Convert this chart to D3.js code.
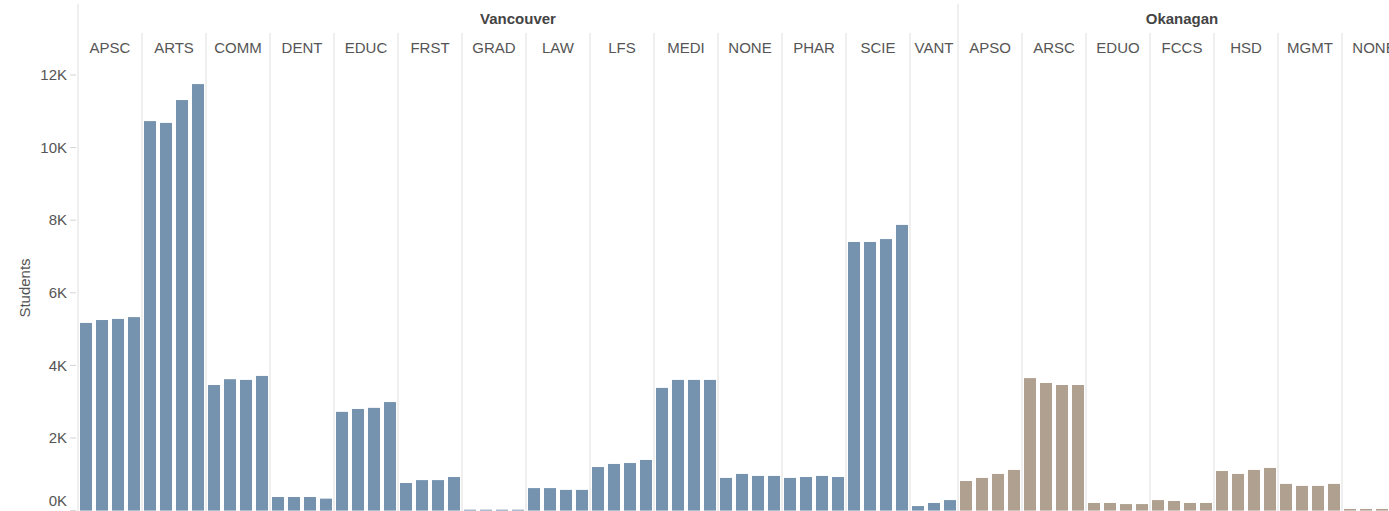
<!DOCTYPE html>
<html>
<head>
<meta charset="utf-8">
<script src="https://d3js.org/d3.v7.min.js"></script>
<style>
  body { margin: 0; background: #fff; }
  svg { display: block; font-family: 'Liberation Sans', Arial, Helvetica, sans-serif; }
  .tick-label, .fac-label { font-size: 15px; fill: #555; }
  .campus-label { font-size: 15px; font-weight: bold; fill: #444; }
  .axis-title { font-size: 15px; fill: #555; }
  .sep { stroke: #efefef; stroke-width: 2; }
</style>
</head>
<body>
<div id="vis"></div>
<script>
const years = ["2017", "2018", "2019", "2020"];
const campuses = ["Vancouver", "Okanagan"];
const campusColors = ["#7593af", "#b0a08f"];

const vanFaculties = ["APSC", "ARTS", "COMM", "DENT", "EDUC", "FRST", "GRAD", "LAW", "LFS", "MEDI", "NONE", "PHAR", "SCIE", "VANT"];
const vanStudents = [
  [5170, 5250, 5280, 5330],
  [10730, 10680, 11310, 11750],
  [3460, 3620, 3600, 3710],
  [375, 375, 375, 330],
  [2720, 2800, 2830, 2990],
  [760, 840, 840, 925],
  [25, 25, 25, 25],
  [620, 620, 570, 570],
  [1200, 1285, 1310, 1395],
  [3380, 3600, 3600, 3600],
  [900, 1010, 955, 955],
  [900, 925, 955, 925],
  [7400, 7400, 7480, 7870],
  [null, 125, 210, 290]
];

const okaFaculties = ["APSO", "ARSC", "EDUO", "FCCS", "HSD", "MGMT", "NONE"];
const okaStudents = [
  [815, 900, 1010, 1120],
  [3650, 3515, 3460, 3460],
  [210, 210, 180, 180],
  [290, 265, 210, 210],
  [1090, 1010, 1120, 1175],
  [735, 680, 680, 735],
  [45, 45, 45, 45]
];

const yTicks = [0, 2000, 4000, 6000, 8000, 10000, 12000];

const width = 1389, height = 511;
const left = 78, slotW = 16;

// flatten to bars, Tableau packs only existing years inside each pane
const groups = [
  { campus: campuses[0], color: campusColors[0], faculties: vanFaculties, values: vanStudents },
  { campus: campuses[1], color: campusColors[1], faculties: okaFaculties, values: okaStudents }
];

const bars = [];
const panes = [];
const campusSpans = [];
groups.forEach(g => {
  const first = bars.length;
  g.faculties.forEach((f, i) => {
    const start = bars.length;
    g.values[i].forEach((v, j) => {
      if (v === null) return;
      bars.push({ key: g.campus + "|" + f + "|" + years[j], campus: g.campus, color: g.color, value: v });
    });
    panes.push({ name: f, first: start, last: bars.length - 1 });
  });
  campusSpans.push({ name: g.campus, first: first, last: bars.length - 1 });
});

const x = d3.scaleBand()
  .domain(bars.map(d => d.key))
  .range([left, left + slotW * bars.length])
  .paddingInner(0.25)
  .paddingOuter(0.125);

const y = d3.scaleLinear().domain([0, 12000]).range([510.6, 75]);

const step = x.step();
const slotLeft = i => left + i * step;

const svg = d3.select("#vis").append("svg")
  .attr("width", width)
  .attr("height", height);

// pane separators
svg.append("g").selectAll("line.pane")
  .data(panes)
  .enter().append("line")
  .attr("class", "sep")
  .attr("x1", d => slotLeft(d.first))
  .attr("x2", d => slotLeft(d.first))
  .attr("y1", d => campusSpans.some(c => c.first === d.first) ? 4 : 33)
  .attr("y2", height);

// bars
svg.append("g").selectAll("rect")
  .data(bars)
  .enter().append("rect")
  .attr("x", d => x(d.key))
  .attr("width", x.bandwidth())
  .attr("y", d => y(d.value))
  .attr("height", d => y(0) - y(d.value))
  .style("fill", d => d.color);

// campus headers
svg.append("g").selectAll("text")
  .data(campusSpans)
  .enter().append("text")
  .attr("class", "campus-label")
  .attr("x", d => (slotLeft(d.first) + slotLeft(d.last + 1)) / 2)
  .attr("y", 23.5)
  .attr("text-anchor", "middle")
  .text(d => d.name);

// faculty headers
svg.append("g").selectAll("text")
  .data(panes)
  .enter().append("text")
  .attr("class", "fac-label")
  .attr("x", d => (slotLeft(d.first) + slotLeft(d.last + 1)) / 2)
  .attr("y", 53)
  .attr("text-anchor", "middle")
  .text(d => d.name);

// y axis
const yAxis = svg.append("g");
yAxis.selectAll("line")
  .data(yTicks)
  .enter().append("line")
  .attr("x1", 70).attr("x2", 76)
  .attr("y1", d => y(d)).attr("y2", d => y(d))
  .style("stroke", "#d4d4d4");

yAxis.selectAll("text")
  .data(yTicks)
  .enter().append("text")
  .attr("class", "tick-label")
  .attr("x", 67)
  .attr("y", d => Math.min(y(d), 501))
  .attr("dy", "0.35em")
  .attr("text-anchor", "end")
  .text(d => (d / 1000) + "K");

svg.append("text")
  .attr("class", "axis-title")
  .attr("transform", "translate(30,288) rotate(-90)")
  .attr("text-anchor", "middle")
  .text("Students");
</script>
</body>
</html>
